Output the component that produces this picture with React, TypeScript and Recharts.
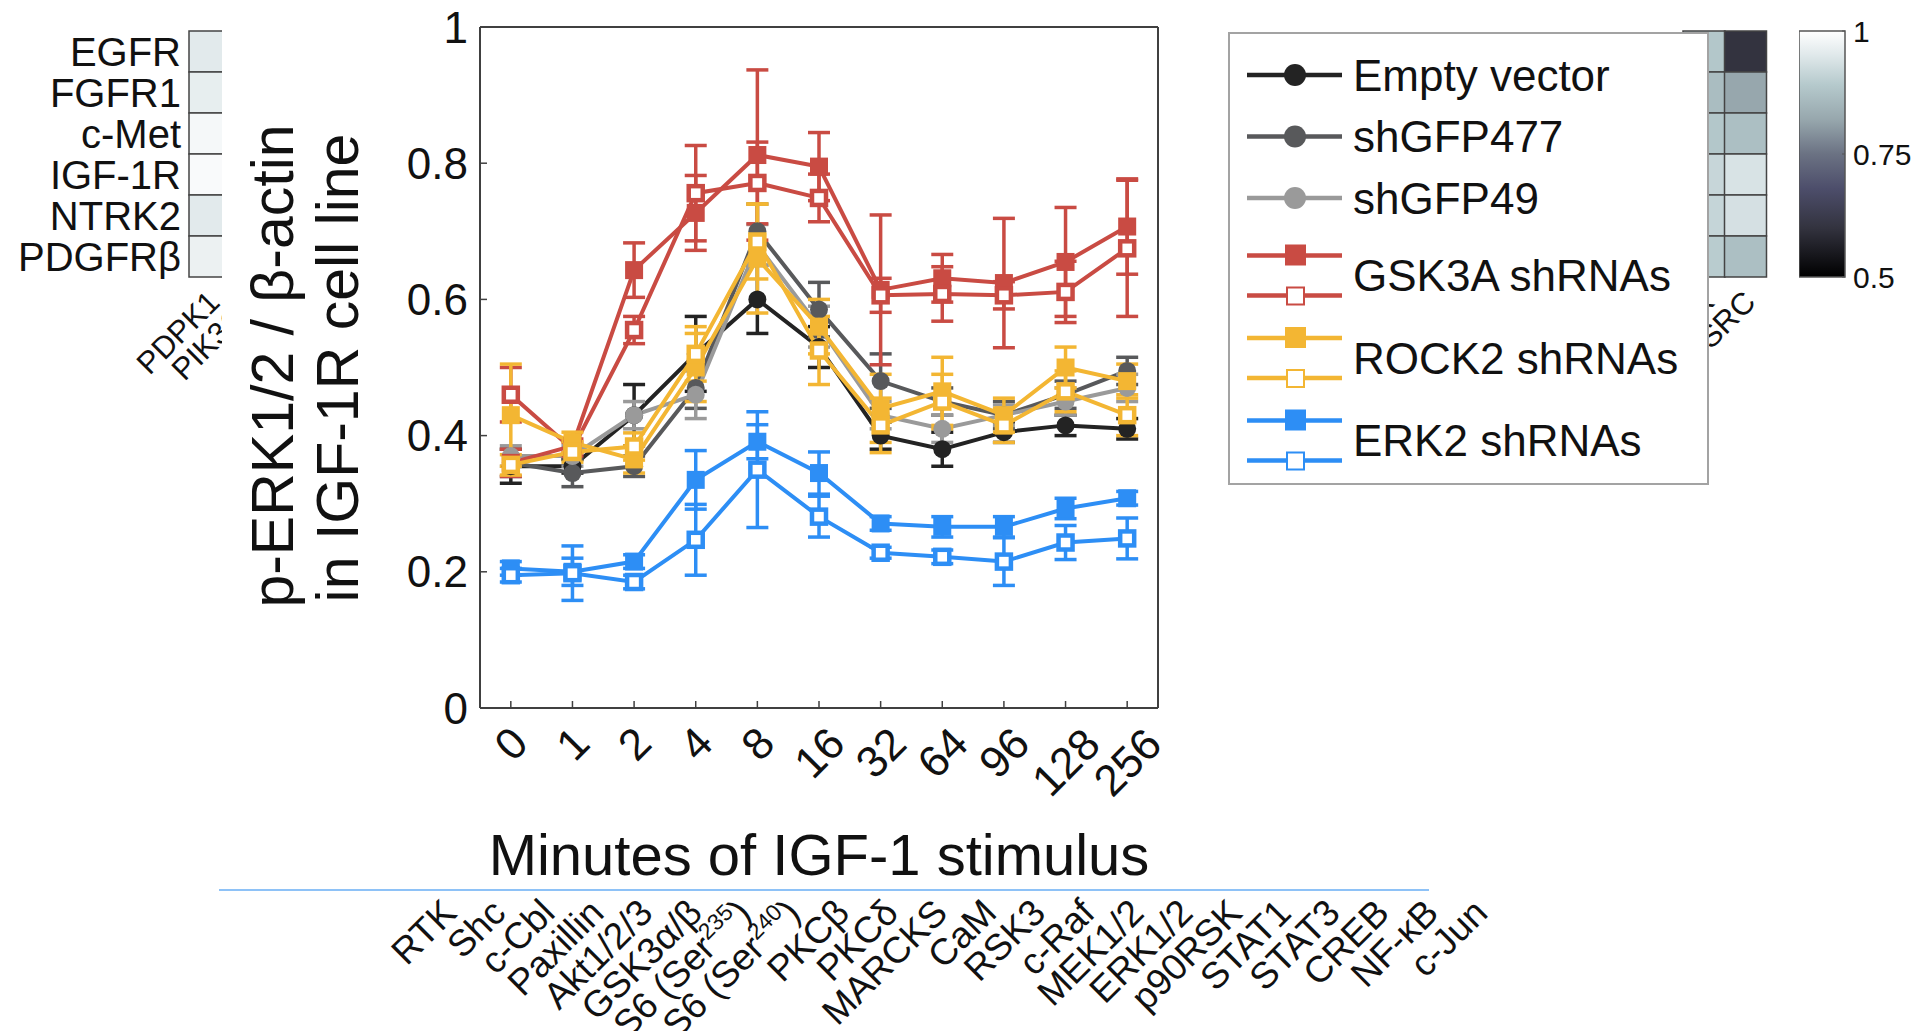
import React from 'react'
import { LineChart, Line, XAxis, YAxis, ErrorBar, BarChart, Bar, Cell, Label } from 'recharts'

const FONT = '"Liberation Sans", Arial, Helvetica, sans-serif'

// time points (minutes of IGF-1)
const minutes = ['0', '1', '2', '4', '8', '16', '32', '64', '96', '128', '256']
const yTicks = [0, 0.2, 0.4, 0.6, 0.8, 1]

const emptyVector = [0.355, 0.355, 0.43, 0.52, 0.6, 0.53, 0.4, 0.38, 0.405, 0.415, 0.41]
const emptyVectorErr = [0.025, 0.01, 0.045, 0.055, 0.05, 0.03, 0.02, 0.025, 0.015, 0.015, 0.015]
const shGFP477 = [0.36, 0.345, 0.355, 0.47, 0.7, 0.585, 0.48, 0.45, 0.43, 0.46, 0.495]
const shGFP477Err = [0.02, 0.02, 0.015, 0.03, 0.04, 0.04, 0.04, 0.02, 0.02, 0.02, 0.02]
const shGFP49 = [0.37, 0.37, 0.43, 0.46, 0.68, 0.56, 0.43, 0.41, 0.43, 0.45, 0.47]
const shGFP49Err = [0.015, 0.015, 0.02, 0.035, 0.03, 0.03, 0.02, 0.02, 0.015, 0.02, 0.02]
const gsk3aFilled = [0.36, 0.385, 0.643, 0.727, 0.812, 0.795, 0.614, 0.631, 0.624, 0.655, 0.707]
const gsk3aFilledErr = [0.02, 0.01, 0.04, 0.055, 0.125, 0.05, 0.11, 0.035, 0.095, 0.08, 0.07]
const gsk3aOpen = [0.46, 0.38, 0.555, 0.756, 0.771, 0.749, 0.606, 0.608, 0.606, 0.611, 0.675]
const gsk3aOpenErr = [0.04, 0.01, 0.02, 0.07, 0.06, 0.035, 0.025, 0.04, 0.02, 0.045, 0.1]
const rock2Filled = [0.43, 0.39, 0.365, 0.5, 0.66, 0.56, 0.44, 0.465, 0.43, 0.5, 0.48]
const rock2FilledErr = [0.075, 0.015, 0.02, 0.05, 0.08, 0.04, 0.05, 0.05, 0.025, 0.03, 0.025]
const rock2Open = [0.357, 0.376, 0.384, 0.52, 0.685, 0.525, 0.415, 0.45, 0.415, 0.465, 0.43]
const rock2OpenErr = [0.015, 0.015, 0.02, 0.04, 0.055, 0.05, 0.04, 0.04, 0.025, 0.03, 0.03]
const erk2Filled = [0.205, 0.2, 0.215, 0.335, 0.391, 0.345, 0.271, 0.266, 0.266, 0.293, 0.308]
const erk2FilledErr = [0.01, 0.02, 0.01, 0.043, 0.025, 0.031, 0.01, 0.015, 0.015, 0.015, 0.01]
const erk2Open = [0.195, 0.198, 0.185, 0.247, 0.35, 0.281, 0.228, 0.222, 0.215, 0.243, 0.249]
const erk2OpenErr = [0.01, 0.04, 0.01, 0.052, 0.085, 0.03, 0.008, 0.01, 0.035, 0.025, 0.03]

const legendNames = ['Empty vector', 'shGFP477', 'shGFP49', 'GSK3A shRNAs', 'ROCK2 shRNAs', 'ERK2 shRNAs']

// heatmap fragments around the plot
const leftHeatRows = ['EGFR', 'FGFR1', 'c-Met', 'IGF-1R', 'NTRK2', 'PDGFRβ']
const leftHeatCols = ['PDPK1', 'PIK3CA']
const leftHeatValues = [
  [0.955, 0.963, 0.985, 0.99, 0.955, 0.97],
  [0.95, 0.96, 0.97, 0.98, 0.95, 0.96],
]
const rightHeatCols = ['FAK', 'SRC']
const rightHeatValues = [
  [0.885, 0.865, 0.885, 0.915, 0.913, 0.895],
  [0.6, 0.82, 0.87, 0.94, 0.935, 0.87],
]
const heatRowTicks = [0.5, 1.5, 2.5, 3.5, 4.5, 5.5]
const colorbarTicks = [0.5, 0.75, 1]

const proteinLabels = [
  'RTK', 'Shc', 'c-Cbl', 'Paxillin', 'Akt1/2/3', 'GSK3α/β', 'S6 (Ser^235)', 'S6 (Ser^240)',
  'PKCβ', 'PKCδ', 'MARCKS', 'CaM', 'RSK3', 'c-Raf', 'MEK1/2', 'ERK1/2', 'p90RSK',
  'STAT1', 'STAT3', 'CREB', 'NF-κB', 'c-Jun',
]

const BLACK = '#232323'
const DARK_GRAY = '#58595b'
const LIGHT_GRAY = '#9a9a9a'
const RED = '#c94b43'
const YELLOW = '#f3b633'
const BLUE = '#2d8ef5'
const AXIS = '#404040'

type Marker = 'circle' | 'square' | 'open'

const series: { key: string; values: number[]; errs: number[]; color: string; marker: Marker }[] = [
  { key: 'ev', values: emptyVector, errs: emptyVectorErr, color: BLACK, marker: 'circle' },
  { key: 'g477', values: shGFP477, errs: shGFP477Err, color: DARK_GRAY, marker: 'circle' },
  { key: 'g49', values: shGFP49, errs: shGFP49Err, color: LIGHT_GRAY, marker: 'circle' },
  { key: 'gskF', values: gsk3aFilled, errs: gsk3aFilledErr, color: RED, marker: 'square' },
  { key: 'gskO', values: gsk3aOpen, errs: gsk3aOpenErr, color: RED, marker: 'open' },
  { key: 'rockF', values: rock2Filled, errs: rock2FilledErr, color: YELLOW, marker: 'square' },
  { key: 'rockO', values: rock2Open, errs: rock2OpenErr, color: YELLOW, marker: 'open' },
  { key: 'erkF', values: erk2Filled, errs: erk2FilledErr, color: BLUE, marker: 'square' },
  { key: 'erkO', values: erk2Open, errs: erk2OpenErr, color: BLUE, marker: 'open' },
]

const chartData = minutes.map((m, i) => {
  const row: Record<string, number | string> = { i, m }
  series.forEach((s) => {
    row[s.key] = s.values[i]
    row[s.key + 'Err'] = s.errs[i]
  })
  return row
})

const legendItems = [
  { name: legendNames[0], color: BLACK, pair: false },
  { name: legendNames[1], color: DARK_GRAY, pair: false },
  { name: legendNames[2], color: LIGHT_GRAY, pair: false },
  { name: legendNames[3], color: RED, pair: true },
  { name: legendNames[4], color: YELLOW, pair: true },
  { name: legendNames[5], color: BLUE, pair: true },
]

// colormap used by the heatmaps (white -> teal -> grey -> purple -> black)
const CMAP: [number, string][] = [
  [0.5, '#000000'],
  [0.6, '#33333f'],
  [0.68, '#4d4e6b'],
  [0.75, '#6b7283'],
  [0.82, '#97a7ad'],
  [0.89, '#b5c9cc'],
  [0.95, '#dfe8ea'],
  [1, '#ffffff'],
]

function hexToRgb(h: string): number[] {
  return [1, 3, 5].map((p) => parseInt(h.slice(p, p + 2), 16))
}

function cmap(v: number): string {
  for (let k = 1; k < CMAP.length; k++) {
    const [v1, c1] = CMAP[k]
    const [v0, c0] = CMAP[k - 1]
    if (v <= v1) {
      const t = Math.max(0, (v - v0) / (v1 - v0))
      const a = hexToRgb(c0)
      const b = hexToRgb(c1)
      const rgb = a.map((x, j) => Math.round(x + (b[j] - x) * t))
      return `rgb(${rgb.join(',')})`
    }
  }
  return '#ffffff'
}

function heatData(cols: string[]) {
  return cols.map((name) => {
    const row: Record<string, number | string> = { name }
    for (let r = 0; r < 6; r++) row['r' + r] = 1
    return row
  })
}

function makeDot(color: string, marker: Marker) {
  return (props: any) => {
    const { cx, cy, index } = props
    if (cx == null || cy == null) return <g key={`d-${index}`} />
    if (marker === 'circle') return <circle key={`d-${index}`} cx={cx} cy={cy} r={9} fill={color} />
    if (marker === 'square')
      return <rect key={`d-${index}`} x={cx - 9} y={cy - 9} width={18} height={18} fill={color} />
    return (
      <rect key={`d-${index}`} x={cx - 7} y={cy - 7} width={14} height={14} fill="#fff" stroke={color} strokeWidth={4.5} />
    )
  }
}

function MinuteTick(props: any) {
  const { x, y, payload } = props
  const label = minutes[payload.value] ?? ''
  const cy = y + 26 + 9.3 * label.length
  return (
    <text
      x={x}
      y={cy}
      transform={`rotate(-45 ${x} ${cy})`}
      textAnchor="middle"
      dominantBaseline="central"
      fontSize={44}
      fill="#111"
      fontFamily={FONT}
    >
      {label}
    </text>
  )
}

function RotatedEndTick(props: any) {
  const { x, y, payload, fontSize, dx } = props
  const raw: string = String(payload.value)
  const m = raw.match(/^(.*)\^(\d+)(.*)$/)
  const ax = x + (dx ?? 0)
  return (
    <text
      x={ax}
      y={y}
      transform={`rotate(-45 ${ax} ${y})`}
      textAnchor="end"
      fontSize={fontSize}
      fill="#111"
      fontFamily={FONT}
    >
      {m ? (
        <>
          {m[1]}
          <tspan dy={-14} fontSize={fontSize * 0.62}>{m[2]}</tspan>
          <tspan dy={14}>{m[3]}</tspan>
        </>
      ) : (
        raw
      )}
    </text>
  )
}

function YTitle() {
  return (
    <g fontFamily={FONT} fontSize={59} fill="#111">
      <text transform="translate(293,366) rotate(-90)" textAnchor="middle">
        p-ERK1/2 / β-actin
      </text>
      <text transform="translate(358,368) rotate(-90)" textAnchor="middle">
        in IGF-1R cell line
      </text>
    </g>
  )
}

function XTitle(props: any) {
  const vb = props.viewBox || { x: 480, y: 708, width: 678 }
  return (
    <text x={vb.x + vb.width / 2} y={875} textAnchor="middle" fontFamily={FONT} fontSize={58} fill="#111">
      Minutes of IGF-1 stimulus
    </text>
  )
}

function HeatLeft() {
  const data = heatData(leftHeatCols)
  return (
    <div style={{ position: 'absolute', left: 0, top: 0, width: 222, height: 420, overflow: 'hidden' }}>
      <BarChart width={420} height={420} data={data} margin={{ top: 31, right: 149, bottom: 0, left: 0 }} barCategoryGap={0} barGap={0}>
        <XAxis dataKey="name" height={143} tickLine={false} axisLine={false} tickSize={0} tickMargin={27} interval={0}
          tick={(p: any) => <RotatedEndTick {...p} fontSize={31} dx={12} />} />
        <YAxis type="number" domain={[0, 6]} reversed width={189} ticks={heatRowTicks} interval={0}
          tickFormatter={(v: number) => leftHeatRows[Math.floor(v)]} tickLine={false} axisLine={false} tickSize={0} tickMargin={8}
          tick={{ fontSize: 40, fill: '#111', fontFamily: FONT }} />
        {leftHeatRows.map((_, r) => (
          <Bar key={r} dataKey={'r' + r} stackId="h" isAnimationActive={false} stroke="#444" strokeWidth={1.5}>
            {leftHeatCols.map((c, ci) => (
              <Cell key={c} fill={cmap(leftHeatValues[ci][r])} />
            ))}
          </Bar>
        ))}
      </BarChart>
    </div>
  )
}

function HeatRight() {
  const data = heatData(rightHeatCols)
  return (
    <div style={{ position: 'absolute', left: 0, top: 0 }}>
      <BarChart width={1931} height={420} data={data} margin={{ top: 31, right: 165, bottom: 0, left: 1683 }} barCategoryGap={0} barGap={0}>
        <XAxis dataKey="name" height={143} tickLine={false} axisLine={false} tickSize={0} tickMargin={27} interval={0}
          tick={(p: any) => <RotatedEndTick {...p} fontSize={31} dx={12} />} />
        <YAxis hide domain={[0, 6]} reversed />
        {leftHeatRows.map((_, r) => (
          <Bar key={r} dataKey={'r' + r} stackId="h" isAnimationActive={false} stroke="#444" strokeWidth={1.5}>
            {rightHeatCols.map((c, ci) => (
              <Cell key={c} fill={cmap(rightHeatValues[ci][r])} />
            ))}
          </Bar>
        ))}
      </BarChart>
    </div>
  )
}

function Colorbar() {
  const data = [{ name: 'cb', range: [0.5, 1] }]
  return (
    <div style={{ position: 'absolute', left: 1799, top: 0 }}>
      <BarChart width={132} height={300} data={data} margin={{ top: 31, right: 0, bottom: 23, left: 0 }} barCategoryGap={0}>
        <defs>
          <linearGradient id="cbGrad" x1="0" y1="0" x2="0" y2="1">
            {CMAP.slice().reverse().map(([v, c]) => (
              <stop key={v} offset={`${((1 - v) / 0.5) * 100}%`} stopColor={c} />
            ))}
          </linearGradient>
        </defs>
        <XAxis dataKey="name" hide />
        <YAxis orientation="right" type="number" domain={[0.5, 1]} ticks={colorbarTicks} width={86}
          tickFormatter={(v: number) => String(v)} axisLine={false} tickLine={{ stroke: '#555' }} tickSize={-3} tickMargin={11}
          tick={{ fontSize: 30, fill: '#111', fontFamily: FONT, textAnchor: 'start' }} />
        <Bar dataKey="range" fill="url(#cbGrad)" stroke="#555" strokeWidth={1.5} isAnimationActive={false} />
      </BarChart>
    </div>
  )
}

function LegendBox() {
  let singles = 0
  let pairs = 0
  return (
    <div style={{ position: 'absolute', left: 1228, top: 32, width: 481, height: 453, boxSizing: 'border-box', border: '2px solid #a3a3a3', background: '#fff' }}>
      <svg width={477} height={449} style={{ position: 'absolute', left: 0, top: 0 }}>
        {legendItems.map((it) => {
          const cy = it.pair ? 241.5 + 82.5 * pairs++ : 41 + 61.5 * singles++
          return (
            <g key={it.name}>
              {it.pair ? (
                <>
                  <line x1={17} x2={112} y1={cy - 20} y2={cy - 20} stroke={it.color} strokeWidth={4.5} />
                  <rect x={55} y={cy - 31} width={21} height={21} fill={it.color} />
                  <line x1={17} x2={112} y1={cy + 20} y2={cy + 20} stroke={it.color} strokeWidth={4.5} />
                  <rect x={57} y={cy + 12} width={17} height={17} fill="#fff" stroke={it.color} strokeWidth={2} />
                </>
              ) : (
                <>
                  <line x1={17} x2={112} y1={cy} y2={cy} stroke={it.color} strokeWidth={4.5} />
                  <circle cx={65} cy={cy} r={11} fill={it.color} />
                </>
              )}
              <text x={123} y={cy} dominantBaseline="central" fontSize={44} fill="#111" fontFamily={FONT}>
                {it.name}
              </text>
            </g>
          )
        })}
      </svg>
    </div>
  )
}

function ProteinLabels() {
  const data = proteinLabels.map((name) => ({ name, v: 0 }))
  return (
    <div style={{ position: 'absolute', left: 0, top: 0 }}>
      <BarChart width={1931} height={1031} data={data} margin={{ top: 860, right: 417, bottom: 0, left: 434 }}>
        <XAxis dataKey="name" height={131} interval={0} tickLine={false} axisLine={false} tickSize={0} tickMargin={15}
          tick={(p: any) => <RotatedEndTick {...p} fontSize={37} dx={0} />} />
        <YAxis hide domain={[0, 1]} />
        <Bar dataKey="v" fill="none" isAnimationActive={false} />
      </BarChart>
    </div>
  )
}

export default function App() {
  return (
    <div style={{ position: 'absolute', left: 0, top: 0, width: 1931, height: 1031, background: '#fff', overflow: 'hidden' }}>
      <HeatLeft />
      <HeatRight />
      <Colorbar />
      <div style={{ position: 'absolute', left: 0, top: 0 }}>
        <LineChart width={1931} height={1031} data={chartData} margin={{ top: 0, right: 0, bottom: 0, left: 360 }}>
          <XAxis xAxisId="bottom" dataKey="i" type="number" domain={[-0.5, 10.5]} ticks={minutes.map((_, i) => i)}
            height={323} axisLine={{ stroke: AXIS, strokeWidth: 2 }} tickLine={{ stroke: AXIS, strokeWidth: 1.5 }}
            tickSize={-7} tickMargin={7} tick={<MinuteTick />} interval={0}>
            <Label content={<XTitle />} />
          </XAxis>
          <XAxis xAxisId="top" orientation="top" dataKey="i" type="number" domain={[-0.5, 10.5]} ticks={minutes.map((_, i) => i)}
            height={27} axisLine={{ stroke: AXIS, strokeWidth: 2 }} tickLine={{ stroke: AXIS, strokeWidth: 1.5 }}
            tickSize={-7} tick={false} interval={0} />
          <YAxis yAxisId="left" type="number" domain={[0, 1]} ticks={yTicks} width={120}
            axisLine={{ stroke: AXIS, strokeWidth: 2 }} tickLine={{ stroke: AXIS, strokeWidth: 1.5 }}
            tickSize={-7} tickMargin={19} interval={0}
            tickFormatter={(v: number) => String(v)}
            tick={{ fontSize: 44, fill: '#111', fontFamily: FONT }}>
            <Label content={<YTitle />} />
          </YAxis>
          <YAxis yAxisId="right" orientation="right" type="number" domain={[0, 1]} ticks={yTicks} width={773}
            axisLine={{ stroke: AXIS, strokeWidth: 2 }} tickLine={{ stroke: AXIS, strokeWidth: 1.5 }}
            tickSize={-7} tick={false} interval={0} />
          {/* invisible series so the mirrored top/right axes get their ticks */}
          <Line xAxisId="top" yAxisId="right" dataKey="ev" stroke="none" dot={false} activeDot={false}
            legendType="none" isAnimationActive={false} />
          {series.map((s) => (
            <Line
              key={s.key}
              xAxisId="bottom"
              yAxisId="left"
              dataKey={s.key}
              stroke={s.color}
              strokeWidth={4}
              dot={makeDot(s.color, s.marker)}
              activeDot={false}
              isAnimationActive={false}
            >
              <ErrorBar dataKey={s.key + 'Err'} direction="y" width={11} stroke={s.color} strokeWidth={3.5} />
            </Line>
          ))}
        </LineChart>
      </div>
      <LegendBox />
      <ProteinLabels />
      <div style={{ position: 'absolute', left: 219, top: 889, width: 1210, height: 2, background: '#8ec2f7' }} />
    </div>
  )
}
